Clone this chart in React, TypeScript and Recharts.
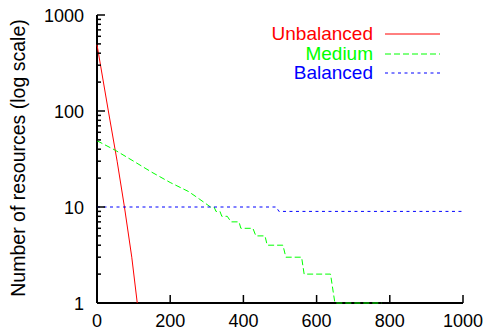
import React from 'react';
import { LineChart, Line, XAxis, YAxis } from 'recharts';

const unbalancedX = [0, 31, 55, 75, 95, 110];
const unbalancedY = [490, 100, 30, 10, 3, 1];

const mediumX = [0, 50, 100, 150, 200, 250, 268, 281, 295, 310, 320, 325, 336, 341, 356, 366, 388, 393, 426, 434, 459, 465, 508, 516, 559, 566, 638, 650, 778];
const mediumY = [49, 39, 30, 23, 18, 14.5, 13, 12, 11, 10, 10, 9, 9, 8, 8, 7, 7, 6, 6, 5, 5, 4, 4, 3, 3, 2, 2, 1, 1];

const balancedX = [0, 490, 497, 1000];
const balancedY = [10, 10, 9, 9];

const xTicks = [0, 200, 400, 600, 800, 1000];
const yTicks = [
  1, 2, 3, 4, 5, 6, 7, 8, 9,
  10, 20, 30, 40, 50, 60, 70, 80, 90,
  100, 200, 300, 400, 500, 600, 700, 800, 900,
  1000,
];

const toPoints = (xs: number[], ys: number[]) => xs.map((x, i) => ({ x, y: ys[i] }));

const series = [
  { name: 'Unbalanced', color: '#ff0000', dash: undefined, data: toPoints(unbalancedX, unbalancedY) },
  { name: 'Medium', color: '#00ff00', dash: '6 3', data: toPoints(mediumX, mediumY) },
  { name: 'Balanced', color: '#0000ff', dash: '3 3.5', data: toPoints(balancedX, balancedY) },
];

const FONT = '"Liberation Sans", Arial, Helvetica, sans-serif';
const isMajor = (v: number) => Math.abs(Math.log10(v) - Math.round(Math.log10(v))) < 1e-9;

const BottomTick = ({ x, y, payload }: any) => (
  <g>
    <line x1={x} y1={y} x2={x} y2={y - 8} stroke="#000" strokeWidth={1.5} />
    <text x={x} y={y + 24} textAnchor="middle" fontFamily={FONT} fontSize={18} fill="#000">
      {payload.value}
    </text>
  </g>
);

const TopTick = ({ x, y }: any) => (
  <line x1={x} y1={y} x2={x} y2={y + 8} stroke="#000" strokeWidth={1.5} />
);

const LeftTick = ({ x, y, payload }: any) => {
  const major = isMajor(payload.value);
  return (
    <g>
      <line x1={x} y1={y} x2={x + (major ? 8 : 4)} y2={y} stroke="#000" strokeWidth={1.5} />
      {major && (
        <text x={x - 13} y={y + 7} textAnchor="end" fontFamily={FONT} fontSize={18} fill="#000">
          {payload.value}
        </text>
      )}
    </g>
  );
};

const RightTick = ({ x, y, payload }: any) => {
  const major = isMajor(payload.value);
  return <line x1={x} y1={y} x2={x - (major ? 8 : 4)} y2={y} stroke="#000" strokeWidth={1.5} />;
};

// legend drawn as an overlay so it does not take room from the plot
const ChartLegend = () => (
  <div style={{ position: 'absolute', left: 0, top: 0, width: 486, height: 90, pointerEvents: 'none' }}>
    {series.map((s, i) => (
      <div key={s.name} style={{ position: 'absolute', top: 24 + i * 19.5, left: 0, width: 486, height: 20 }}>
        <span
          style={{
            position: 'absolute',
            right: 486 - 373,
            top: 0,
            lineHeight: '20px',
            fontFamily: FONT,
            fontSize: 19,
            color: s.color,
            whiteSpace: 'nowrap',
          }}
        >
          {s.name}
        </span>
        <svg style={{ position: 'absolute', left: 385, top: 0 }} width={56} height={20}>
          <line x1={0} y1={10} x2={55} y2={10} stroke={s.color} strokeWidth={1} strokeDasharray={s.dash} />
        </svg>
      </div>
    ))}
  </div>
);

const YLabel = () => (
  <text
    x={18}
    y={158}
    transform="rotate(-90, 18, 158)"
    textAnchor="middle"
    dominantBaseline="central"
    fontFamily={FONT}
    fontSize={19.5}
    fill="#000"
  >
    Number of resources (log scale)
  </text>
);

export default function App() {
  return (
    <div style={{ position: 'absolute', left: 0, top: 0, width: 486, height: 331, background: '#fff' }}>
      <LineChart width={486} height={331} margin={{ top: 15, right: 23, left: 0, bottom: 0 }}>
        <XAxis
          dataKey="x"
          type="number"
          domain={[0, 1000]}
          ticks={xTicks}
          interval={0}
          height={28}
          tickSize={0}
          tickMargin={0}
          tickLine={false}
          axisLine={{ stroke: '#000', strokeWidth: 2 }}
          tick={<BottomTick />}
        />
        <XAxis
          xAxisId="top"
          orientation="top"
          type="number"
          domain={[0, 1000]}
          allowDataOverflow
          ticks={xTicks}
          interval={0}
          height={0}
          tickSize={0}
          tickMargin={0}
          tickLine={false}
          axisLine={{ stroke: '#000', strokeWidth: 2 }}
          tick={<TopTick />}
        />
        <YAxis
          type="number"
          scale="log"
          domain={[1, 1000]}
          ticks={yTicks}
          interval={0}
          width={97}
          tickSize={0}
          tickMargin={0}
          tickLine={false}
          axisLine={{ stroke: '#000', strokeWidth: 2 }}
          tick={<LeftTick />}
          label={<YLabel />}
        />
        <YAxis
          yAxisId="right"
          orientation="right"
          type="number"
          scale="log"
          domain={[1, 1000]}
          allowDataOverflow
          ticks={yTicks}
          interval={0}
          width={0}
          tickSize={0}
          tickMargin={0}
          tickLine={false}
          axisLine={{ stroke: '#000', strokeWidth: 2 }}
          tick={<RightTick />}
        />
        {series.map((s) => (
          <Line
            key={s.name}
            name={s.name}
            data={s.data}
            dataKey="y"
            type="linear"
            stroke={s.color}
            strokeWidth={1}
            strokeDasharray={s.dash}
            dot={false}
            activeDot={false}
            isAnimationActive={false}
            {...({ zIndex: 600 } as any)}
          />
        ))}
      </LineChart>
      <ChartLegend />
    </div>
  );
}
